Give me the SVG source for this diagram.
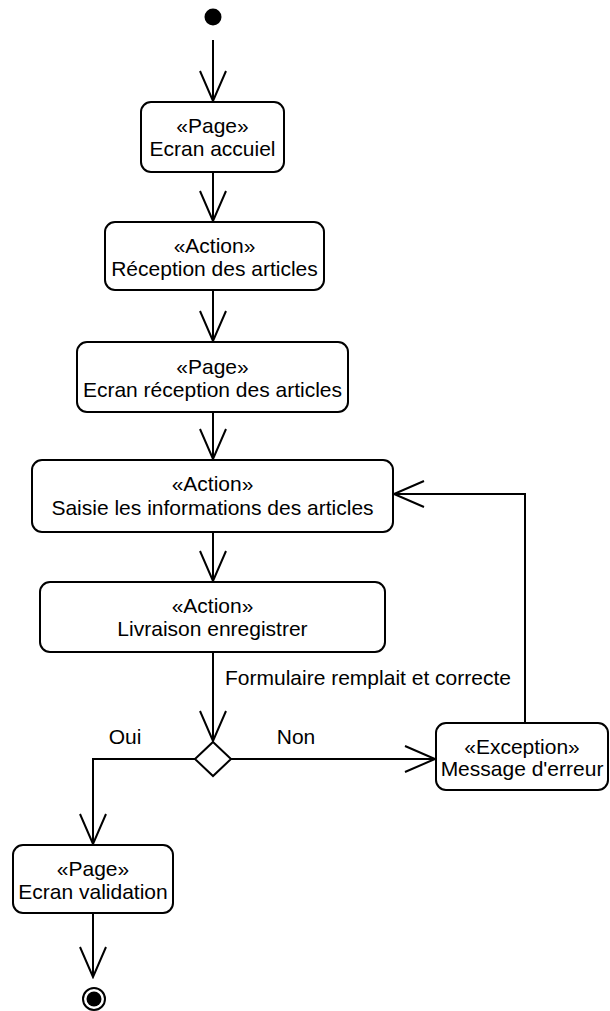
<svg xmlns="http://www.w3.org/2000/svg" width="610" height="1011" viewBox="0 0 610 1011">
  <style>
    .box { fill: #ffffff; stroke: #000000; stroke-width: 2; }
    .edge { fill: none; stroke: #000000; stroke-width: 2; }
    .head { fill: none; stroke: #000000; stroke-width: 2; stroke-linejoin: miter; }
    text { font-family: "Liberation Sans", Arial, sans-serif; font-size: 21px; fill: #000000; }
    .c { text-anchor: middle; }
  </style>
  <defs>
    <!-- open V arrowhead, tip at the end of the line -->
    <marker id="open" markerUnits="userSpaceOnUse" viewBox="-32 -15 34 30" refX="0" refY="0" markerWidth="34" markerHeight="30" orient="auto">
      <path class="head" d="M -30 -13 L 0 0 L -30 13"/>
    </marker>
  </defs>

  <!-- connectors -->
  <g id="connectors">
    <path class="edge" d="M 213 40 V 101" marker-end="url(#open)"/>
    <path class="edge" d="M 213 172 V 221" marker-end="url(#open)"/>
    <path class="edge" d="M 213 290 V 341" marker-end="url(#open)"/>
    <path class="edge" d="M 213 412 V 459" marker-end="url(#open)"/>
    <path class="edge" d="M 213 532 V 581" marker-end="url(#open)"/>
    <path class="edge" d="M 213 652 V 741" marker-end="url(#open)"/>
    <path class="edge" d="M 195 759 H 93 V 844" marker-end="url(#open)"/>
    <path class="edge" d="M 231 759 H 435" marker-end="url(#open)"/>
    <path class="edge" d="M 525 723 V 494 H 394" marker-end="url(#open)"/>
    <path class="edge" d="M 93 913 V 977" marker-end="url(#open)"/>
    <text x="225" y="685">Formulaire remplait et correcte</text>
    <text class="c" x="125" y="744">Oui</text>
    <text class="c" x="296" y="744">Non</text>
  </g>

  <!-- initial state -->
  <g id="start">
    <circle cx="213" cy="17" r="8.5" fill="#000000"/>
  </g>

  <g id="ecran-accueil">
    <rect class="box" x="141" y="102" width="143" height="70" rx="10"/>
    <text class="c" x="212.5" y="133">«Page»</text>
    <text class="c" x="212.5" y="156">Ecran accuiel</text>
  </g>

  <g id="reception-articles">
    <rect class="box" x="105" y="222" width="219" height="68" rx="10"/>
    <text class="c" x="214.5" y="253">«Action»</text>
    <text class="c" x="214.5" y="276">Réception des articles</text>
  </g>

  <g id="ecran-reception">
    <rect class="box" x="77" y="342" width="271" height="70" rx="10"/>
    <text class="c" x="212.5" y="374">«Page»</text>
    <text class="c" x="212.5" y="397">Ecran réception des articles</text>
  </g>

  <g id="saisie-informations">
    <rect class="box" x="32" y="460" width="361" height="72" rx="10"/>
    <text class="c" x="212.5" y="491">«Action»</text>
    <text class="c" x="212.5" y="515">Saisie les informations des articles</text>
  </g>

  <g id="livraison">
    <rect class="box" x="40" y="582" width="345" height="70" rx="10"/>
    <text class="c" x="212.5" y="613">«Action»</text>
    <text class="c" x="212.5" y="636">Livraison enregistrer</text>
  </g>

  <!-- decision -->
  <g id="decision">
    <polygon class="box" points="213,742 231,759 213,776 195,759"/>
  </g>

  <g id="message-erreur">
    <rect class="box" x="436" y="723" width="172" height="67" rx="10"/>
    <text class="c" x="522" y="754">«Exception»</text>
    <text class="c" x="522" y="776">Message d'erreur</text>
  </g>

  <g id="ecran-validation">
    <rect class="box" x="13" y="845" width="160" height="68" rx="10"/>
    <text class="c" x="93" y="876">«Page»</text>
    <text class="c" x="93" y="899">Ecran validation</text>
  </g>

  <!-- final state -->
  <g id="end">
    <circle cx="94" cy="999" r="11" fill="#ffffff" stroke="#000000" stroke-width="2"/>
    <circle cx="94" cy="999" r="7.5" fill="#000000"/>
  </g>
</svg>
